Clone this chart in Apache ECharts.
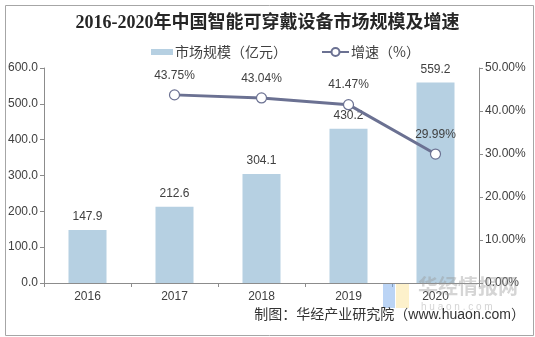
<!DOCTYPE html>
<html><head><meta charset="utf-8">
<script src="https://cdn.jsdelivr.net/npm/echarts@6/dist/echarts.min.js"></script>
<style>html,body{margin:0;padding:0;background:#fff}#c{width:535px;height:337px}</style>
</head><body><div id="c"></div>
<script>
var categories = ['2016', '2017', '2018', '2019', '2020'];
var marketSize = [147.9, 212.6, 304.1, 430.2, 559.2];
var growthRate = [null, 43.75, 43.04, 41.47, 29.99];
var leftTicks = {min: 0, max: 600, interval: 100};
var rightTicks = {min: 0, max: 50, interval: 10};

var chart = echarts.init(document.getElementById('c'), null, {renderer: 'canvas'});
var sans = 'Liberation Sans, Arial, Noto Sans CJK SC, sans-serif';
chart.setOption({
  animation: false,
  title: {
    text: '2016-2020年中国智能可穿戴设备市场规模及增速',
    left: 'center', top: 9,
    textStyle: {fontFamily: 'Liberation Serif, Noto Sans CJK SC, serif', fontWeight: 'bold', fontSize: 18, color: '#262626'}
  },
  legend: [{
    data: ['市场规模（亿元）'], left: 146, top: 40,
    itemWidth: 22, itemHeight: 6, icon: 'rect',
    textStyle: {fontFamily: 'Noto Sans CJK SC', fontSize: 14, color: '#404040', padding: [0, 0, 0, -3]}
  }, {
    data: ['增速（%）'], left: 316, top: 40,
    itemWidth: 27, itemHeight: 10,
    textStyle: {fontFamily: 'Noto Sans CJK SC', fontSize: 14, color: '#404040', padding: [0, 0, 0, -3]}
  }],
  grid: {left: 44, right: 56, top: 68, bottom: 54},
  xAxis: {
    type: 'category', data: categories,
    axisLine: {lineStyle: {color: '#8c8c8c'}},
    axisTick: {show: true, alignWithLabel: false, length: 4, lineStyle: {color: '#8c8c8c'}},
    axisLabel: {fontFamily: sans, fontSize: 12, color: '#404040', margin: 8}
  },
  yAxis: [{
    type: 'value', min: leftTicks.min, max: leftTicks.max, interval: leftTicks.interval,
    axisLine: {show: true, lineStyle: {color: '#8c8c8c'}},
    axisTick: {show: true, length: 4, lineStyle: {color: '#8c8c8c'}},
    splitLine: {show: false},
    axisLabel: {fontFamily: sans, fontSize: 12, color: '#404040', margin: 6, formatter: function(v){return v.toFixed(1);}}
  }, {
    type: 'value', min: rightTicks.min, max: rightTicks.max, interval: rightTicks.interval,
    axisLine: {show: true, lineStyle: {color: '#8c8c8c'}},
    axisTick: {show: true, length: 4, lineStyle: {color: '#8c8c8c'}},
    splitLine: {show: false},
    axisLabel: {fontFamily: sans, fontSize: 12, color: '#404040', margin: 6, formatter: function(v){return v.toFixed(2) + '%';}}
  }],
  series: [{
    name: '市场规模（亿元）', type: 'bar', data: marketSize, barWidth: 38,
    itemStyle: {color: '#b6d0e2'},
    label: {show: true, position: 'top', distance: 7, fontFamily: sans, fontSize: 12, color: '#404040',
      formatter: function(p){return p.value.toFixed(1);}}
  }, {
    name: '增速（%）', type: 'line', yAxisIndex: 1, data: growthRate,
    symbol: 'circle', symbolSize: 10,
    lineStyle: {color: '#6b7192', width: 3},
    itemStyle: {color: '#ffffff', borderColor: '#6b7192', borderWidth: 1.2},
    label: {show: true, position: 'top', distance: 8, fontFamily: sans, fontSize: 12, color: '#404040',
      formatter: function(p){return p.value.toFixed(2) + '%';}}
  }],
  graphic: [
    {type: 'rect', left: 3, top: 3, shape: {width: 528, height: 330}, style: {fill: 'none', stroke: '#a6a6a6', lineWidth: 1}, silent: true},
    {type: 'rect', left: 383, top: 284, shape: {width: 12, height: 24}, style: {fill: 'rgba(120,170,235,0.5)'}, silent: true, z: 100},
    {type: 'rect', left: 396, top: 284, shape: {width: 13, height: 24}, style: {fill: 'rgba(250,225,140,0.45)'}, silent: true, z: 100},
    {type: 'text', left: 418, top: 276, style: {text: '华经情报网', font: 'bold 20px "Noto Sans CJK SC"', fill: 'rgba(150,150,150,0.4)'}, silent: true, z: 100},
    {type: 'text', left: 421, top: 302, style: {text: 'h u a o n . c o m', font: '10px "Liberation Sans"', fill: 'rgba(170,170,170,0.5)'}, silent: true, z: 100},
    {type: 'text', right: 10, top: 308, style: {text: '制图：华经产业研究院（www.huaon.com）', font: '14px "Liberation Sans", "Noto Sans CJK SC"', fill: '#333333'}, silent: true, z: 101}
  ]
});
</script></body></html>
